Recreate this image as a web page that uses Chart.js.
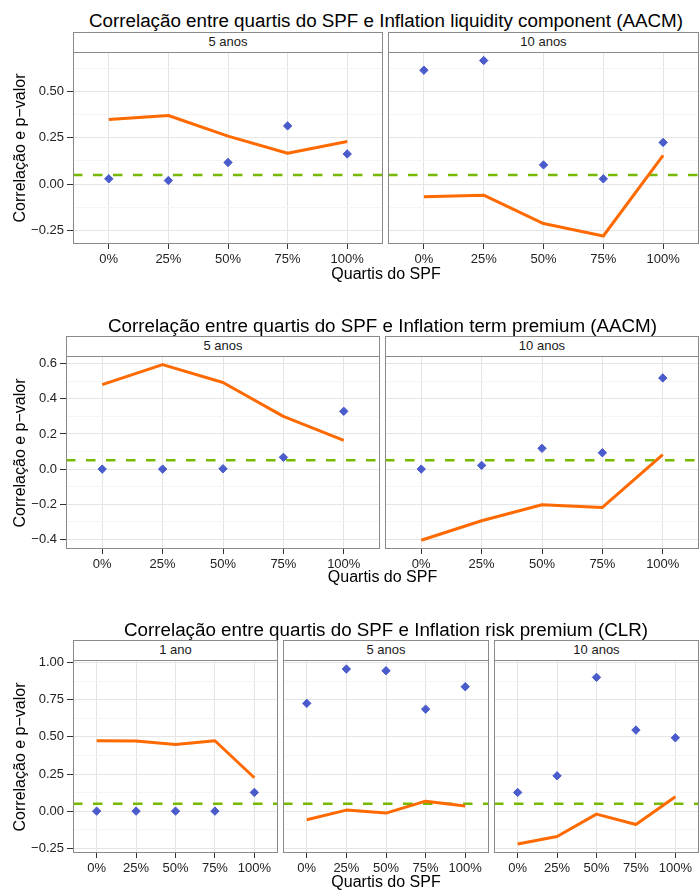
<!DOCTYPE html>
<html>
<head>
<meta charset="utf-8">
<script src="https://cdn.jsdelivr.net/npm/chart.js@4.4.0/dist/chart.umd.min.js"></script>
<style>
  html, body { margin: 0; padding: 0; background: #fff; overflow: hidden; }
  #fig { position: relative; width: 699px; height: 891px; font-family: "Liberation Sans", Arial, sans-serif; color: #000; }
  #fig canvas { position: absolute; }
  .txt { position: absolute; white-space: nowrap; line-height: 1; }
  .strip { position: absolute; box-sizing: border-box; border: 1px solid #8a8a8a; background: #fff;
           text-align: center; font-size: 13px; line-height: 18px; color: #1a1a1a; }
</style>
</head>
<body>
<div id="fig"></div>
<script>
// categorias do eixo x
const quartis = ['0%', '25%', '50%', '75%', '100%'];
const limite = 0.05;

// Inflation liquidity component (AACM)
const liq5Cor = [0.349, 0.370, 0.259, 0.167, 0.230];
const liq5P = [0.029, 0.020, 0.117, 0.314, 0.163];
const liq10Cor = [-0.068, -0.059, -0.212, -0.279, 0.155];
const liq10P = [0.614, 0.666, 0.104, 0.029, 0.225];

// Inflation term premium (AACM)
const term5Cor = [0.481, 0.595, 0.493, 0.300, 0.164];
const term5P = [0.000, 0.000, 0.002, 0.067, 0.329];
const term10Cor = [-0.405, -0.294, -0.203, -0.218, 0.082];
const term10P = [0.000, 0.021, 0.118, 0.093, 0.519];

// Inflation risk premium (CLR)
const risk1Cor = [0.474, 0.472, 0.449, 0.474, 0.225];
const risk1P = [0.000, 0.000, 0.000, 0.000, 0.126];
const risk5Cor = [-0.058, 0.007, -0.013, 0.067, 0.034];
const risk5P = [0.726, 0.957, 0.946, 0.687, 0.838];
const risk10Cor = [-0.222, -0.171, -0.020, -0.090, 0.097];
const risk10P = [0.126, 0.238, 0.901, 0.546, 0.494];

// ticks do eixo y
const yMajorLiq = [-0.25, 0, 0.25, 0.5];
const yMinorLiq = [-0.125, 0.125, 0.375, 0.625];
const yMajorTerm = [-0.4, -0.2, 0, 0.2, 0.4, 0.6];
const yMinorTerm = [-0.3, -0.1, 0.1, 0.3, 0.5];
const yMajorRisk = [-0.25, 0, 0.25, 0.5, 0.75, 1];
const yMinorRisk = [-0.125, 0.125, 0.375, 0.625, 0.875];

const FONT = '"Liberation Sans", Arial, sans-serif';
Chart.defaults.font.family = FONT;
const STRIP_H = 20, XAXIS_H = 26;
const fig = document.getElementById('fig');

function addText(text, cx, baseline, size, rotate) {
  const d = document.createElement('div');
  d.className = 'txt';
  d.textContent = text;
  d.style.fontSize = size + 'px';
  d.style.width = '600px';
  d.style.textAlign = 'center';
  if (rotate) {
    // cx = baseline x, baseline = centre y
    const cxBox = cx - 0.3465 * size;
    d.style.left = (cxBox - 300) + 'px';
    d.style.top = (baseline - size / 2) + 'px';
    d.style.transform = 'rotate(-90deg)';
    d.style.transformOrigin = '50% 50%';
  } else {
    d.style.left = (cx - 300) + 'px';
    d.style.top = (baseline - 0.8465 * size) + 'px';
  }
  fig.appendChild(d);
}

const panelBorder = {
  id: 'panelBorder',
  afterDraw(chart) {
    const a = chart.chartArea, ctx = chart.ctx;
    ctx.save();
    ctx.strokeStyle = '#8a8a8a';
    ctx.lineWidth = 1;
    ctx.strokeRect(a.left + 0.5, a.top + 0.5, a.right - a.left - 1, a.bottom - a.top - 1);
    ctx.restore();
  }
};

function fmt(v, dec) {
  return (v < -1e-9 ? '\u2212' : '') + Math.abs(v).toFixed(dec);
}

function panel(p) {
  const cLeft = p.showY ? 0 : p.left;
  const w = p.right - cLeft;
  const h = p.bottom + XAXIS_H - p.stripTop;
  const canvas = document.createElement('canvas');
  canvas.width = w;
  canvas.height = h;
  canvas.style.left = cLeft + 'px';
  canvas.style.top = p.stripTop + 'px';
  canvas.style.width = w + 'px';
  canvas.style.height = h + 'px';
  fig.appendChild(canvas);

  const strip = document.createElement('div');
  strip.className = 'strip';
  strip.textContent = p.strip;
  strip.style.left = p.left + 'px';
  strip.style.top = p.stripTop + 'px';
  strip.style.width = (p.right - p.left) + 'px';
  strip.style.height = (STRIP_H + 1) + 'px';
  fig.appendChild(strip);

  const pts = vals => vals.map((v, i) => ({ x: i, y: v }));

  new Chart(canvas, {
    type: 'scatter',
    data: {
      datasets: [
        {
          data: pts(p.pval), showLine: false, pointStyle: 'rectRot',
          pointRadius: 4.2, backgroundColor: '#4a5bcb', borderColor: '#4a5bcb', borderWidth: 1
        },
        {
          data: pts(p.cor), showLine: true, borderColor: '#ff6a00', borderWidth: 3,
          pointRadius: 0, borderJoinStyle: 'round', tension: 0
        },
        {
          data: [{ x: -0.6, y: limite }, { x: 4.6, y: limite }], showLine: true,
          borderColor: '#76b900', borderWidth: 2.5, borderDash: [9.5, 10.5], pointRadius: 0
        }
      ]
    },
    options: {
      responsive: false,
      animation: false,
      devicePixelRatio: 1,
      layout: { autoPadding: false, padding: { top: STRIP_H, left: 0, right: 0, bottom: 0 } },
      plugins: { legend: { display: false }, tooltip: { enabled: false } },
      scales: {
        x: {
          type: 'linear', min: -0.6, max: 4.6,
          afterBuildTicks: s => { s.ticks = quartis.map((q, i) => ({ value: i })); },
          afterFit: s => { s.height = XAXIS_H; },
          ticks: {
            callback: v => quartis[v], font: { size: 13 }, color: '#222',
            padding: 3, maxRotation: 0, autoSkip: false
          },
          grid: { color: '#e5e5e5', tickColor: '#333', tickLength: 5 },
          border: { display: false }
        },
        y: {
          type: 'linear', min: p.yMin, max: p.yMax,
          afterBuildTicks: s => {
            s.ticks = p.major.map(v => ({ value: v }))
              .concat(p.minor.map(v => ({ value: v, minor: true })));
          },
          afterFit: s => { s.width = p.showY ? p.left : 0; },
          ticks: {
            display: p.showY,
            callback: (v, i, ticks) => (ticks[i].minor ? '' : fmt(v, p.dec)),
            font: { size: 13 }, color: '#222', padding: 3
          },
          grid: {
            color: c => (c.tick && c.tick.minor ? '#f5f5f5' : '#e5e5e5'),
            tickColor: c => (c.tick && c.tick.minor ? 'rgba(0,0,0,0)' : '#333'),
            tickLength: 6,
            drawTicks: p.showY
          },
          border: { display: false }
        }
      }
    },
    plugins: [panelBorder]
  });
}

// linha 1: liquidity component
const r1 = { stripTop: 32, bottom: 244, yMin: -0.322, yMax: 0.712, major: yMajorLiq, minor: yMinorLiq, dec: 2 };
panel(Object.assign({}, r1, { left: 73, right: 383, showY: true, strip: '5 anos', cor: liq5Cor, pval: liq5P }));
panel(Object.assign({}, r1, { left: 388, right: 699, showY: false, strip: '10 anos', cor: liq10Cor, pval: liq10P }));
addText('Correla\u00e7\u00e3o entre quartis do SPF e Inflation liquidity component (AACM)', 386, 28.3, 18.8);
addText('Quartis do SPF', 386, 280, 16);
addText('Correla\u00e7\u00e3o e p\u2212valor', 26, 148, 16, true);

// linha 2: term premium
const r2 = { stripTop: 336, bottom: 549, yMin: -0.455, yMax: 0.644, major: yMajorTerm, minor: yMinorTerm, dec: 1 };
panel(Object.assign({}, r2, { left: 66, right: 380, showY: true, strip: '5 anos', cor: term5Cor, pval: term5P }));
panel(Object.assign({}, r2, { left: 385, right: 699, showY: false, strip: '10 anos', cor: term10Cor, pval: term10P }));
addText('Correla\u00e7\u00e3o entre quartis do SPF e Inflation term premium (AACM)', 382.5, 332.7, 18.8);
addText('Quartis do SPF', 382.5, 582.5, 16);
addText('Correla\u00e7\u00e3o e p\u2212valor', 26, 452.5, 16, true);

// linha 3: risk premium
const r3 = { stripTop: 640, bottom: 853, yMin: -0.282, yMax: 1.018, major: yMajorRisk, minor: yMinorRisk, dec: 2 };
panel(Object.assign({}, r3, { left: 73, right: 278, showY: true, strip: '1 ano', cor: risk1Cor, pval: risk1P }));
panel(Object.assign({}, r3, { left: 283, right: 489, showY: false, strip: '5 anos', cor: risk5Cor, pval: risk5P }));
panel(Object.assign({}, r3, { left: 494, right: 699, showY: false, strip: '10 anos', cor: risk10Cor, pval: risk10P }));
addText('Correla\u00e7\u00e3o entre quartis do SPF e Inflation risk premium (CLR)', 386, 636.7, 18.8);
addText('Quartis do SPF', 386, 888, 16);
addText('Correla\u00e7\u00e3o e p\u2212valor', 26, 756.5, 16, true);
</script>
</body>
</html>
